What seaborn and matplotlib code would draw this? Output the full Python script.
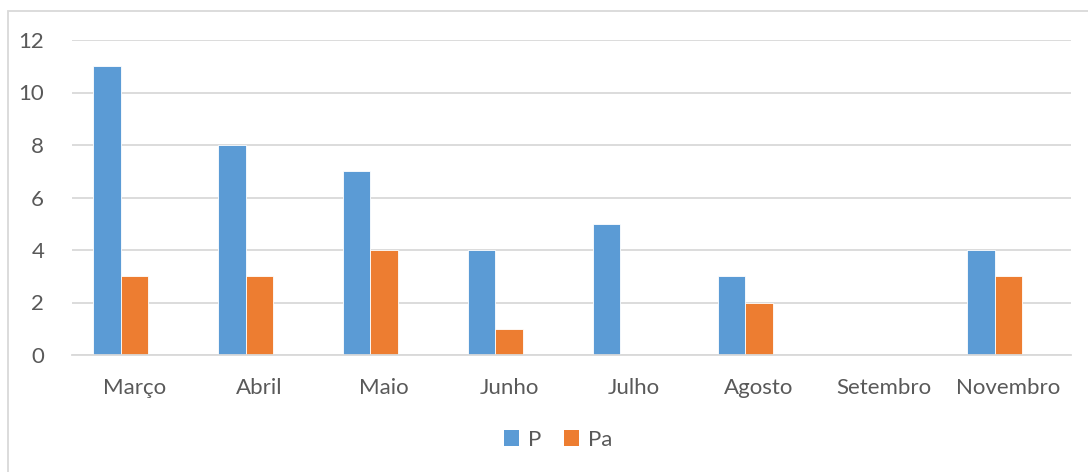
import matplotlib
matplotlib.use("Agg")
import matplotlib.pyplot as plt
import seaborn as sns
import pandas as pd
from matplotlib.patches import Rectangle, Patch

months = ["Março", "Abril", "Maio", "Junho", "Julho", "Agosto", "Setembro", "Novembro"]
p_values = [11, 8, 7, 4, 5, 3, 0, 4]
pa_values = [3, 3, 4, 1, 0, 2, 0, 3]
series_names = ["P", "Pa"]
y_ticks = [0, 2, 4, 6, 8, 10, 12]

colors = {"P": "#5B9BD5", "Pa": "#ED7D31", " ": "#A5A5A5"}
text_color = "#595959"
grid_color = "#D9D9D9"

df = pd.DataFrame({
    "Mês": months * 2,
    "Série": [series_names[0]] * len(months) + [series_names[1]] * len(months),
    "Valor": p_values + pa_values,
})

sns.set_theme(style="white")
plt.rcParams["font.family"] = ["Lato", "DejaVu Sans"]

W, H = 1088, 472
fig = plt.figure(figsize=(W / 100, H / 100), dpi=100)
ax = fig.add_axes([72 / W, 1 - 355 / H, (1071 - 72) / W, (355 - 40) / H])

# an empty third slot in each group keeps the same spacing as the source chart
sns.barplot(data=df, x="Mês", y="Valor", hue="Série", order=months,
            hue_order=series_names + [" "], palette=colors, saturation=1,
            width=0.66, gap=0, edgecolor="white", linewidth=0.6,
            ax=ax, legend=False)

ax.set_ylim(0, 12)
ax.set_yticks(y_ticks)
ax.set_xlim(-0.5, len(months) - 0.5)
ax.yaxis.grid(True, color=grid_color, linewidth=1.3)
ax.set_axisbelow(True)
for side in ["top", "right", "left"]:
    ax.spines[side].set_visible(False)
ax.spines["bottom"].set_color(grid_color)
ax.spines["bottom"].set_linewidth(1.3)
ax.set_xlabel("")
ax.set_ylabel("")
ax.tick_params(axis="x", length=0, pad=16.5, labelsize=16, labelcolor=text_color)
ax.tick_params(axis="y", length=0, pad=20, labelsize=16, labelcolor=text_color)

handles = [Patch(facecolor=colors[s], edgecolor="none") for s in series_names]
fig.legend(handles, series_names, loc="center", bbox_to_anchor=(558 / W, 1 - 440 / H),
           ncol=2, frameon=False, fontsize=16, labelcolor=text_color,
           handlelength=0.7, handleheight=0.7, handletextpad=0.4, columnspacing=1.0)

# chart area frame
fig.patches.append(Rectangle((8 / W, -0.05), 1.1, 1 - 11 / H + 0.05,
                             transform=fig.transFigure, fill=False,
                             edgecolor=grid_color, linewidth=1.3))

fig.savefig("out.png", dpi=100, facecolor="white")
